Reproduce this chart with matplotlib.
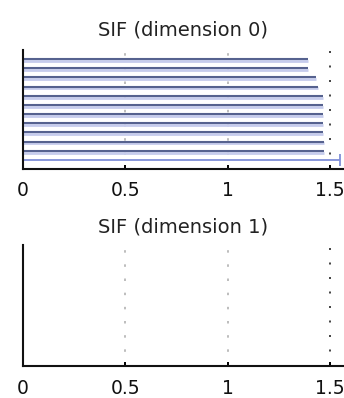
import matplotlib
matplotlib.use("Agg")
import matplotlib.pyplot as plt
import numpy as np

plt.rcParams['font.family'] = ['DejaVu Sans']

# Persistence bars (dimension 0), listed bottom to top
births0 = [0, 0, 0, 0, 0, 0, 0, 0, 0, 0, 0, 0]
deaths0 = [1.55, 1.47, 1.47, 1.464, 1.464, 1.464, 1.464, 1.464, 1.443, 1.432, 1.392, 1.392]
infinite0 = [True] + [False] * 11
# Dimension 1: no bars
births1 = []
deaths1 = []

xticks = [0, 0.5, 1, 1.5]
xticklabels = ['0', '0.5', '1', '1.5']
titles = ['SIF (dimension 0)', 'SIF (dimension 1)']

fig = plt.figure(figsize=(3.44, 3.98), dpi=100)
ax0 = fig.add_axes([0.066, 0.5754, 0.934, 0.299])
ax1 = fig.add_axes([0.066, 0.0804, 0.934, 0.304])

def style(ax, title, tpad):
    ax.set_xlim(0, 1.568)
    ax.set_ylim(0, 13)
    ax.set_yticks([])
    ax.set_xticks(xticks)
    ax.set_xticklabels(xticklabels, fontsize=13.5, color='#111111')
    ax.tick_params(axis='x', direction='in', length=3, width=1.4, pad=9)
    for s in ['top', 'right']:
        ax.spines[s].set_visible(False)
    for s in ['left', 'bottom']:
        ax.spines[s].set_linewidth(1.5)
        ax.spines[s].set_color('#111111')
    for xv in [0.5, 1.0]:
        ax.axvline(xv, color='#b2b2b2', linestyle=(0, (1.5, 7)), linewidth=1.2, zorder=0)
    ax.axvline(1.5, color='#222222', linestyle=(0, (1.2, 7.5)), linewidth=1.2, zorder=0)
    ax.set_title(title, fontsize=14, pad=tpad, color='#222222')

style(ax0, titles[0], 10.5)
style(ax1, titles[1], 9)

ys = np.arange(1, len(deaths0) + 1)
for y, b, d, inf in zip(ys, births0, deaths0, infinite0):
    if inf:
        ax0.hlines(y, b, d, color='#7f8fd8', linewidth=1.3, zorder=2)
        ax0.plot([d], [y], marker='|', markersize=8, color='#7f8fd8', mew=1.3, zorder=2)
    else:
        ax0.hlines(y - 0.2, b, d, color='#c6cced', linewidth=2.0, zorder=1)
        ax0.hlines(y, b, d, color='#56628f', linewidth=1.5, zorder=2)

for y, b, d in zip(range(1, len(deaths1) + 1), births1, deaths1):
    ax1.hlines(y, b, d, color='#56628f', linewidth=1.5)

fig.savefig('out.png', dpi=100)
